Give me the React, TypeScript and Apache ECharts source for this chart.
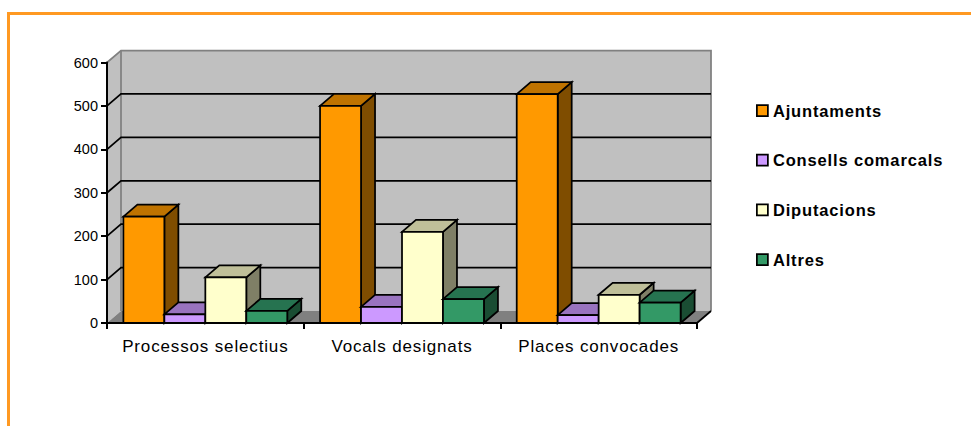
import React, { useEffect, useRef } from "react";
import * as echarts from "echarts";

const categories = ["Processos selectius", "Vocals designats", "Places convocades"];
const ajuntaments = [245, 500, 527];
const consells = [20, 37, 18];
const diputacions = [105, 210, 65];
const altres = [28, 55, 47];
const gridTicks = [100, 200, 300, 400, 500];
const seriesNames = ["Ajuntaments", "Consells comarcals", "Diputacions", "Altres"];
const seriesValues = [ajuntaments, consells, diputacions, altres];
const fronts = ["#FF9900", "#CC99FF", "#FFFFCC", "#339966"];
const tops = ["#BF7300", "#9973BF", "#BFBF99", "#267350"];
const sides = ["#7F4D00", "#664D7F", "#7F7F66", "#1A4D33"];

const DX = 14;
const DY = 12;
const LW = 1.75;
const FONT = "'Liberation Sans', Arial, sans-serif";

export default function App() {
  const ref = useRef<HTMLDivElement>(null);
  useEffect(() => {
    document.body.style.margin = "0";
    const chart = echarts.init(ref.current!, null, { renderer: "svg" });

    const barSeries = seriesNames.map((name, idx) => ({
      name,
      type: "custom",
      z: 5,
      clip: false,
      itemStyle: { color: fronts[idx] },
      encode: { x: 0, y: 1 },
      data: seriesValues[idx].map((v, i) => [i, v]),
      renderItem: (_p: any, api: any) => {
        const i = api.value(0);
        const v = api.value(1);
        const base = api.coord([i, 0]);
        const top = api.coord([i, v]);
        const catW = api.size([1, 0])[0];
        const w = catW / 4.8;
        const l = base[0] - catW / 2 + w * 0.4 + idx * w;
        const r = l + w;
        const t = top[1];
        const b = base[1];
        const face = (points: number[][], fill: string) => ({
          type: "polygon",
          shape: { points },
          style: { fill, stroke: "#000", lineWidth: LW },
        });
        return {
          type: "group",
          children: [
            face([[r, t], [r + DX, t - DY], [r + DX, b - DY], [r, b]], sides[idx]),
            face([[l, t], [l + DX, t - DY], [r + DX, t - DY], [r, t]], tops[idx]),
            face([[l, t], [r, t], [r, b], [l, b]], fronts[idx]),
          ],
        };
      },
    }));

    const wallSeries = {
      type: "custom",
      z: 1,
      silent: true,
      clip: false,
      encode: { x: 0, y: 1 },
      data: [[0, 600]],
      renderItem: (params: any) => {
        const c = params.coordSys;
        const L = c.x, T = c.y, R = c.x + c.width, B = c.y + c.height;
        return {
          type: "group",
          children: [
            { type: "polygon", shape: { points: [[L, B], [L + DX, B - DY], [L + DX, T - DY], [L, T]] }, style: { fill: "#C0C0C0" } },
            { type: "polygon", shape: { points: [[L + DX, T - DY], [R + DX, T - DY], [R + DX, B - DY], [L + DX, B - DY]] }, style: { fill: "#C0C0C0" } },
            { type: "polygon", shape: { points: [[L, B], [R, B], [R + DX, B - DY], [L + DX, B - DY]] }, style: { fill: "#808080" } },
            { type: "polyline", shape: { points: [[L, T], [L + DX, T - DY], [R + DX, T - DY], [R + DX, B - DY]] }, style: { fill: "none", stroke: "#808080", lineWidth: LW } },
            { type: "line", shape: { x1: L + DX, y1: T - DY, x2: L + DX, y2: B - DY }, style: { stroke: "#808080", lineWidth: LW } },
            { type: "line", shape: { x1: R, y1: B, x2: R + DX, y2: B - DY }, style: { stroke: "#000", lineWidth: LW } },
          ],
        };
      },
    };

    const gridSeries = {
      type: "custom",
      z: 2,
      silent: true,
      clip: false,
      encode: { x: 0, y: 1 },
      data: gridTicks.map((t) => [0, t]),
      renderItem: (params: any, api: any) => {
        const c = params.coordSys;
        const y = api.coord([0, api.value(1)])[1];
        return {
          type: "polyline",
          shape: { points: [[c.x, y], [c.x + DX, y - DY], [c.x + c.width + DX, y - DY]] },
          style: { fill: "none", stroke: "#000", lineWidth: LW },
        };
      },
    };

    chart.setOption({
      animation: false,
      backgroundColor: "#fff",
      textStyle: { fontFamily: FONT },
      grid: { left: 107, top: 62.5, width: 590, height: 260.5 },
      xAxis: {
        type: "category",
        data: categories,
        z: 10,
        boundaryGap: true,
        axisLine: { lineStyle: { color: "#000", width: 2 } },
        axisTick: { show: true, length: 6, alignWithLabel: false, lineStyle: { color: "#000", width: 2 } },
        axisLabel: { color: "#000", fontSize: 17, margin: 15, fontFamily: FONT },
        splitLine: { show: false },
      },
      yAxis: {
        type: "value",
        min: 0,
        max: 600,
        interval: 100,
        z: 10,
        axisLine: { show: true, lineStyle: { color: "#000", width: 2 } },
        axisTick: { show: true, length: 6, lineStyle: { color: "#000", width: 2 } },
        axisLabel: { color: "#000", fontSize: 14.5, margin: 9, fontFamily: FONT },
        splitLine: { show: false },
      },
      legend: {
        data: seriesNames,
        orient: "vertical",
        left: 751,
        top: 97,
        itemWidth: 11,
        itemHeight: 11,
        itemGap: 32.7,
        icon: "rect",
        selectedMode: false,
        itemStyle: { borderColor: "#000", borderWidth: 1.75 },
        textStyle: { color: "#000", fontSize: 16.5, fontWeight: "bold", fontFamily: FONT },
      },
      graphic: [
        { type: "rect", shape: { x: 7, y: 12, width: 964, height: 3 }, style: { fill: "#FF9922" } },
        { type: "rect", shape: { x: 7, y: 12, width: 3, height: 414 }, style: { fill: "#FF9922" } },
      ],
      series: [wallSeries, gridSeries, ...barSeries],
    } as any);
    return () => chart.dispose();
  }, []);
  return (
    <>
      <style>{`svg text[style*="16.5px"], svg text[style*="17px"] { letter-spacing: 0.85px; }`}</style>
      <div ref={ref} style={{ width: 971, height: 426 }} />
    </>
  );
}
